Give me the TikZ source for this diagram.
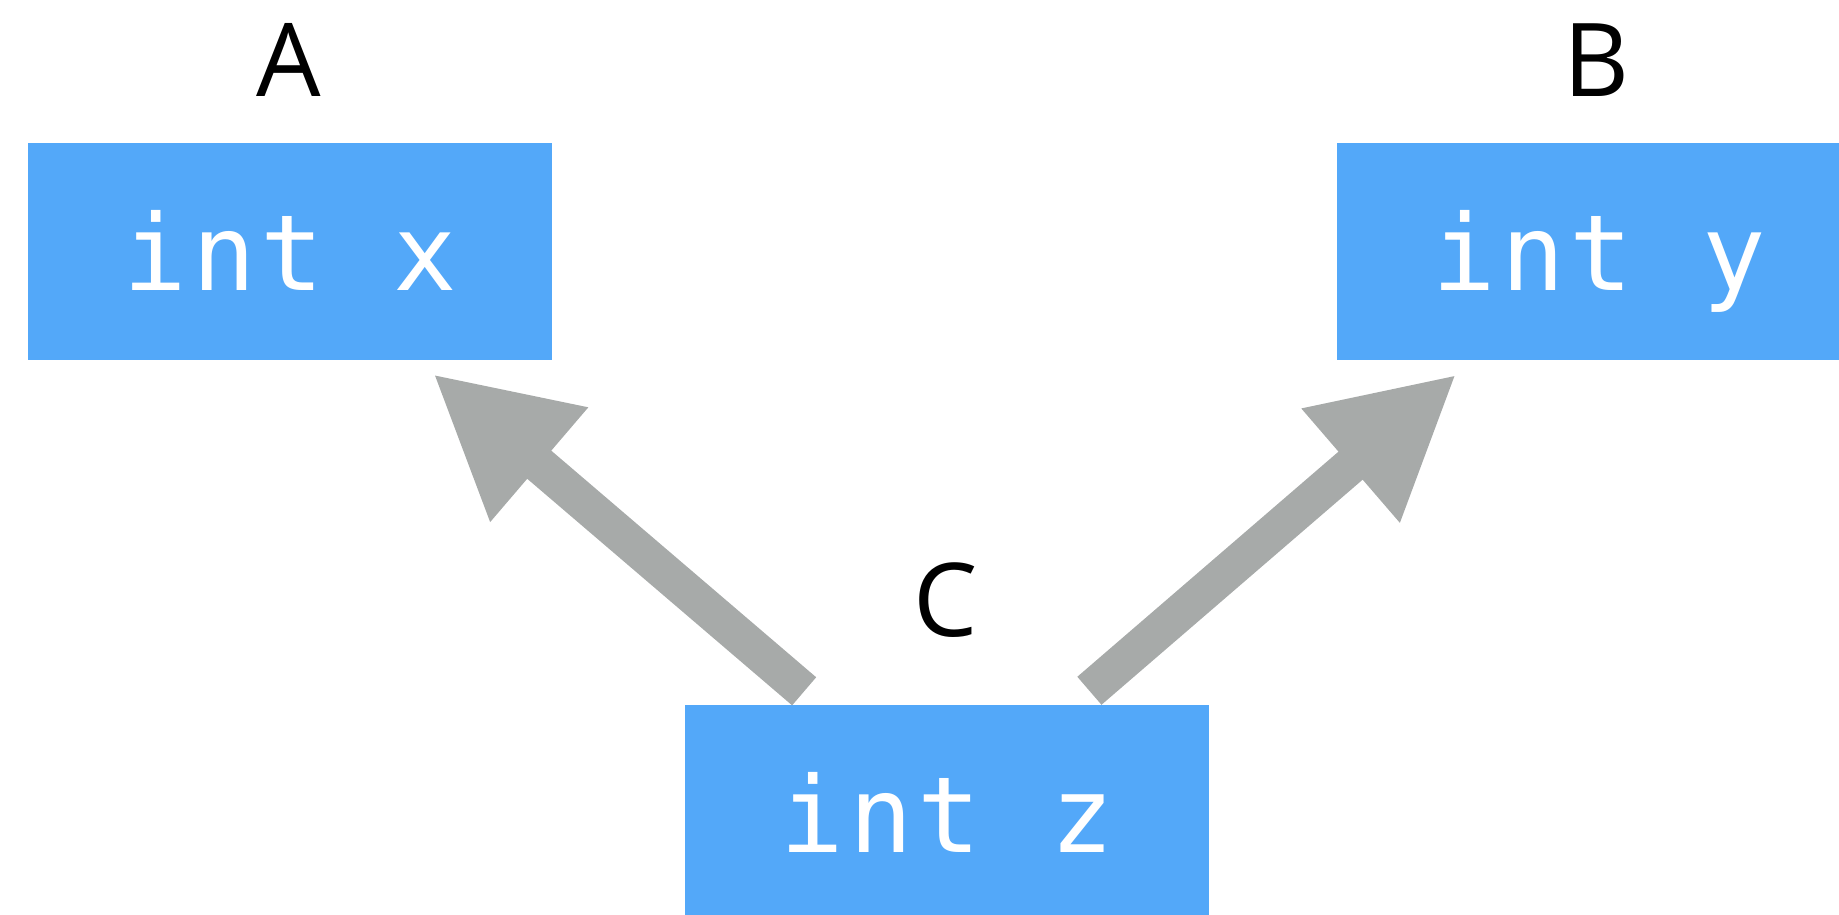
\documentclass[tikz,border=0pt]{standalone}
\usepackage{fontspec}
\setmainfont{Open Sans}
\newfontfamily\codefont{DejaVu Sans Mono}[LetterSpace=5]
\usetikzlibrary{arrows.meta}
\definecolor{varblue}{HTML}{53A8F9}
\definecolor{linkgray}{HTML}{A7AAA9}

\begin{document}
\begin{tikzpicture}[
  var/.style={fill=varblue, text=white, inner sep=0pt,
    minimum width=5.24cm, minimum height=2.17cm,
    text height=0.97cm, text depth=0.2cm,
    font=\codefont\fontsize{30}{30}\selectfont},
  scopename/.style={font=\fontsize{29}{29}\selectfont},
  link/.style={draw=linkgray, line width=3.7mm,
    -{Triangle[length=14mm,width=14mm]},
    shorten <=1.88cm, shorten >=1.88cm}
]
\useasboundingbox (0,0) rectangle (18.39,9.14);

\node[var] (x) at (2.90,6.625) {int x};
\node[var] (y) at (15.99,6.625) {int y};
\node[var] (z) at (9.47,1.005) {int z};

\node[scopename] (A) at (2.885,8.54) {A};
\node[scopename] (B) at (15.96,8.54) {B};
\node[scopename] (C) at (9.46,3.14) {C};

\path[link] (z.center) -- (x.center);
\path[link] (z.center) -- (y.center);
\end{tikzpicture}
\end{document}
